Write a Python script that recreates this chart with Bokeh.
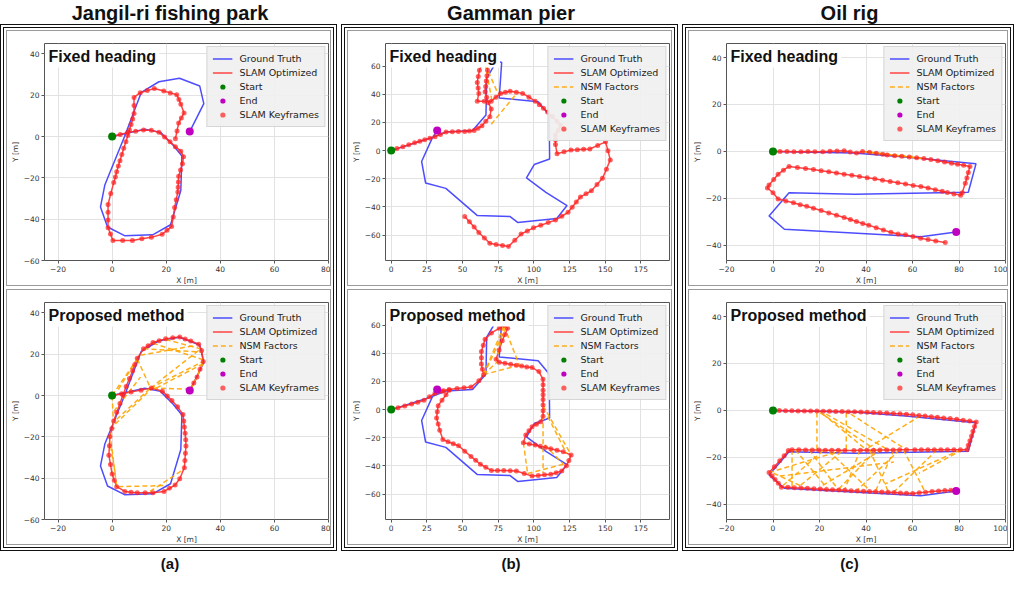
from bokeh.plotting import figure
from bokeh.models import Range1d, FixedTicker, Legend, LegendItem, Label
from bokeh.layouts import row, column
from bokeh.embed import file_html
from bokeh.resources import INLINE
from bokeh.core.properties import value

# ---------------- data ----------------
COLUMN_TITLES = ["Jangil-ri fishing park", "Gamman pier", "Oil rig"]
COLUMN_TAGS = ["(a)", "(b)", "(c)"]
ROW_TITLES = ["Fixed heading", "Proposed method"]
START = (0.0, 0.0)

# Jangil-ri fishing park
A_XTICKS = [-20, 0, 20, 40, 60, 80]
A_YTICKS = [-60, -40, -20, 0, 20, 40]
A_XRANGE = (-25, 80)
A_YRANGE = (-60, 45)
A_GT = [(0, 0), (12.1, 3.5), (17.9, 2.0), (22.5, -4.1), (25.8, -9.4), (25.4, -26.1), (21.6, -42.7),
        (15.0, -47.6), (4.6, -48.0), (-1.7, -43.8), (-4.3, -34.1), (-2.7, -23.5), (4.6, 0.0),
        (10.8, 21.4), (17.3, 26.5), (24.9, 28.2), (32.4, 24.4), (33.9, 15.9), (28.7, 2.4)]
A_FIXED_KF = [(0, 0), (3, 1.0), (5.8, 2.0), (8.7, 2.6), (11.6, 3.2), (14.5, 3.0), (17.3, 2.0), (19.4, -0.3),
              (21.4, -2.6), (23.4, -4.9), (25.4, -7.1), (26.4, -9.8), (26.0, -13.2), (25.3, -16.2),
              (24.6, -19.2), (24.5, -22.0), (24.4, -24.5), (24.3, -26.8), (23.7, -30.6), (23.1, -34.4),
              (22.6, -39), (22.0, -43.5), (20.3, -45.4), (18.5, -47.3), (14.5, -48.8), (11, -49.5),
              (7.5, -50.3), (3.9, -50.3), (0.3, -50.3), (-0.6, -47.2), (-1.5, -44.2), (-1.5, -40.4),
              (-1.5, -36.6), (-1.5, -32.9), (-0.5, -27.6), (0.6, -22.3), (1.2, -19.6), (1.7, -17),
              (2.3, -14.3), (2.9, -11.7), (3.6, -8.7), (4.3, -5.7), (5.1, -2.6), (5.8, 0.5), (6.4, 3.2),
              (7.0, 5.8), (7.6, 8.5), (8.1, 11.1), (8.1, 15), (8.1, 18.9), (10.4, 21.2), (13, 22.2),
              (15.6, 23.2), (19.1, 22.0), (21.5, 21.1), (23.9, 20.2), (24.7, 17.9), (25.4, 15.6),
              (26.6, 11.4), (25.6, 9), (24.6, 6.5), (24, 2.7), (23.4, -1.1)]
A_FIXED_NSM = []
A_PROP_KF = [(0, 0), (3.5, 0.9), (7.0, 1.7), (10.7, 2.6), (14.5, 3.6), (18.6, 2.1), (20.4, -0.2), (22.1, -2.4),
             (24.2, -5.5), (26.2, -9.2), (26.5, -12.3), (26.7, -15.3), (27.0, -18.3), (27.2, -21.4),
             (27.3, -24.4), (27.1, -27.9), (26.9, -31.5), (26.7, -35), (25, -40.3), (23.3, -43.3),
             (21.2, -44.9), (19.2, -46.4), (15.1, -47.1), (12.2, -47.1), (9.3, -47.1), (7, -46.8),
             (4.7, -46.4), (1.7, -44.1), (0.8, -41), (0, -38), (-0.6, -33.4), (-1.2, -28.9), (-1.0, -24.3),
             (-0.8, -19.8), (-0.1, -16), (0.6, -12.3), (1.7, -8.1), (2.9, -3.9), (4, 0.2), (5.2, 4.4),
             (6.4, 8.2), (7.6, 12.0), (8.4, 15), (9.3, 18.0), (11.6, 22.6), (13.3, 24.1), (15.1, 25.6),
             (17.4, 26.5), (19.8, 27.4), (22.4, 27.9), (25.0, 28.3), (27, 27.3), (29.1, 26.4), (32.0, 24.8),
             (33.1, 21.8), (33.7, 16.5), (32.5, 12.7), (31.4, 8.9), (30.2, 6), (29.1, 3.0)]
A_PROP_NSM = [(0, 0, 0.6, -16), (0, 0, 9.3, 17.7), (9.3, 17.7, 14.2, 3.6), (14.2, 3.6, 33.7, 16.5),
              (14.2, 3.6, 32, 21.8), (16.3, 3.6, 33.1, 15), (29.1, 3, 33.7, 15.8), (15.1, 3.6, 29.1, 3),
              (11.6, 22.6, 33.1, 21), (15.1, 25.3, 33.7, 17.3), (19.8, 27.1, 32.6, 22.6),
              (10.5, 19.5, 30.2, 24.1), (1.7, -11.5, 14.2, 3.6), (0.6, -7.7, 10.5, 8.9),
              (1.2, -13.8, 14.2, 2.9), (2.3, -44.1, 19.2, -43.6), (14, -46.4, 25.6, -36.5),
              (-0.8, -18.3, 1.7, -44.1), (-0.6, -24.4, 1.2, -38), (2.3, 2.9, 9.3, 17.7)]

# Gamman pier
B_XTICKS = [0, 25, 50, 75, 100, 125, 150, 175]
B_YTICKS = [-60, -40, -20, 0, 20, 40, 60]
B_XRANGE = (-4, 195)
B_YRANGE = (-78, 76)
B_GT = [(0, 0), (28, 9), (38.4, 13.2), (57, 14.3), (66.4, 25.2), (66.9, 51.5), (74.1, 63.6), (77.4, 62.5),
        (75.7, 37.3), (103, 34.7), (110.7, 25.2), (111.0, -6), (100.2, -9.9), (94.8, -19.3),
        (108.4, -29.6), (123.2, -39), (116.0, -48.2), (88.6, -51), (83.1, -46.7), (60.2, -46),
        (38.3, -26.8), (24.1, -23), (21.3, -7.7), (28.5, 8.3), (32.2, 14.3)]
B_FIXED_KF = [(0, 0), (4, 1.4), (8.2, 2.8), (12.3, 4.1), (16.4, 5.5), (20, 6.6), (23.5, 7.7), (27.1, 8.8),
              (30.7, 9.9), (34.5, 11.5), (38.4, 13.2), (42.8, 13.3), (47.1, 13.5), (51.5, 13.6), (54.8, 13.9),
              (58.1, 14.3), (60.8, 15.9), (63.6, 17.6), (66.3, 20.8), (69.1, 24.1), (70.1, 29.6), (68, 34),
              (66.9, 37.9), (65.8, 41.7), (66.2, 45.5), (66.6, 49.3), (67.1, 53.2), (67.5, 57), (67.5, 61.8),
              (64, 62.5), (61.8, 57), (61, 52.6), (60.3, 48.3), (60.9, 44.5), (61.4, 40.6), (60.3, 35.1),
              (65.2, 35.1), (70.1, 35.1), (73.4, 37.9), (76.7, 40.6), (80, 41.4), (83.3, 42.1), (87.7, 41.4),
              (92.1, 40.6), (96.5, 37.9), (100.9, 35.1), (103.8, 32.5), (106.7, 30), (109.6, 27.4),
              (112.9, 24.2), (116.2, 20.9), (118.8, 18), (117, 14.5), (115.1, 11), (115.1, 7.7),
              (115.1, 4.4), (116.2, -2.2), (121.1, -0.9), (126, 0.4), (130.4, 0.6), (134.8, 0.9),
              (139.2, 1.1), (144.7, 3.7), (150.2, 6.2), (151.9, -0.2), (153.5, -6.6), (150.8, -13.2),
              (148, -19.7), (144.2, -24.1), (140.3, -28.5), (136.5, -30.7), (132.6, -32.9), (129.7, -36.5),
              (126.8, -40.2), (123.9, -43.8), (119.5, -46.6), (115.1, -49.3), (110, -51.1), (104.8, -53),
              (99.7, -54.8), (95.4, -57), (91, -59.2), (86.6, -63.6), (82.2, -68), (78, -67.3),
              (73.5, -66.6), (69.1, -65.8), (65.3, -62), (61.4, -58.1), (58.1, -54.3), (54.8, -50.5),
              (51.5, -46.7)]
B_FIXED_NSM = [(65.8, 61.4, 70.5, 36), (65.8, 61.4, 75, 40), (70.1, 18.7, 88.8, 41.7)]
B_PROP_KF = [(0, 0), (4.8, 1.3), (9.5, 2.6), (14.3, 3.9), (18.6, 5.2), (23, 6.6), (26.8, 9.1), (30.7, 11.6),
             (35.6, 13), (40.6, 14.3), (46.1, 14.9), (51, 15.5), (55.9, 16), (61.4, 20.4), (64.7, 24.8),
             (63.9, 28.6), (63.2, 32.4), (63.2, 36.8), (63.2, 41.2), (64.5, 45.6), (65.8, 50), (70.2, 54.4),
             (75.7, 57.7), (78.9, 59.9), (81.6, 57.7), (79.7, 53.3), (77.8, 48.9), (75.6, 42.3),
             (73.5, 35.7), (75.7, 33.6), (79.7, 32.9), (83.7, 32.1), (87.7, 31.4), (91.4, 30.9), (95, 30.3),
             (98.7, 29.8), (103.5, 27), (106.4, 21.5), (106.4, 17.6), (106.4, 13.8), (106.4, 10.5),
             (106.4, 7.2), (106.4, 3.2), (106.4, -0.8), (106.4, -4.8), (104.8, -8.6), (101.8, -10.4),
             (98.7, -12.1), (96.5, -15), (94.3, -18), (92.6, -23.5), (96.8, -24.4), (100.9, -25.2),
             (104.5, -26.1), (108.1, -26.9), (111.8, -27.8), (116.2, -28.9), (120.6, -30), (126.1, -32.2),
             (124.5, -36.2), (122.8, -39.9), (119.5, -43.6), (115.6, -44.8), (111.8, -45.9),
             (107.4, -46.3), (103, -46.8), (98.7, -47.2), (93.2, -45.4), (87.7, -43.6), (83.3, -43.4),
             (78.9, -43.2), (74.5, -43.2), (70.2, -43.2), (66.3, -41), (62.5, -38.8), (59.2, -36),
             (55.9, -33.3), (51.5, -29.5), (47.2, -25.7), (43.5, -24.2), (39.8, -22.8), (36.2, -21.3),
             (34, -14.7), (32.9, -10.3), (31.8, -5.9), (32.3, -1.5), (32.9, 2.8), (35.6, 6.6),
             (38.4, 10.5), (40.6, 13.8), (36.8, 13.4), (33, 13)]
B_PROP_NSM = [(79, 59.5, 64.7, 24.8), (80.5, 58.5, 65.5, 26), (79, 59.5, 90, 31), (64.7, 24.8, 90, 31.5),
              (79, 59.5, 74, 35.7), (64.7, 24.8, 74.5, 34), (109.7, -4.8, 122.8, -31.1),
              (106.4, -4, 106.4, -45), (92.6, -23.5, 95.6, -45.4), (95.6, -45.4, 120.7, -38.8),
              (107.5, -25, 120.7, -38.8), (106.4, 2.9, 126.1, -32.2)]

# Oil rig
C_XTICKS = [-20, 0, 20, 40, 60, 80, 100]
C_YTICKS = [-40, -20, 0, 20, 40]
C_XRANGE = (-20, 100)
C_YRANGE = (-46.5, 46)
C_GT = [(0, 0), (34.6, -0.7), (57, -2.4), (87.3, -5.3), (84, -17.4), (35.2, -18.3), (6.9, -17.6),
        (-1.7, -27.5), (4.9, -33.2), (63.6, -36.4), (78.8, -34.4)]
C_FIXED_KF = [(0, 0), (3, 0), (6, 0), (9, -0.1), (12, -0.1), (15, 0), (18, -0.1), (21.4, -0.1), (24.5, 0.1),
              (27.5, 0.2), (30.6, 0.3), (33.2, -0.2), (35.9, -0.7), (38.5, 0), (41.5, -0.4), (44.4, -0.8),
              (47.2, -1.2), (49.1, -1.5), (52.3, -1.8), (55.4, -2.1), (58.6, -2.4), (61.8, -2.7),
              (64.9, -3), (67.9, -3.5), (70.9, -4), (73.8, -4.5), (76.8, -5), (79.4, -5.5), (82, -5.9),
              (84.7, -6.4), (84, -9), (83.4, -11.3), (82.7, -13.6), (81.4, -17.6), (80.7, -18.7),
              (77.8, -18.1), (75, -17.5), (72.8, -17), (69.8, -16.3), (66.7, -15.6), (63.6, -15),
              (60.3, -14.5), (57, -13.9), (53.7, -13.4), (50.4, -12.8), (47.1, -12.3), (43.8, -11.7),
              (40.5, -11.2), (37.2, -10.7), (33.9, -10.2), (30.6, -9.7), (27.3, -9.2), (24, -8.7),
              (20.7, -8.2), (17.4, -7.7), (14, -7.3), (10.5, -6.9), (6.9, -6.4), (4.5, -8), (2.2, -9.7),
              (0.3, -12), (-1.7, -14.3), (-2.4, -15.6), (0, -17.6), (2.2, -20.3), (5.5, -21.1),
              (8.8, -21.9), (11.7, -22.7), (14.5, -23.4), (17.4, -24.2), (20.7, -25.2), (24, -26.2),
              (27.3, -27.2), (30.6, -28.2), (33.3, -29), (35.9, -29.9), (38.6, -30.7), (41.2, -31.5),
              (44.4, -32.5), (47.5, -33.5), (50.7, -34.5), (53.8, -35.2), (57, -35.5), (60.2, -36.3),
              (63.5, -37), (66.7, -37.6), (70, -38.2), (74.1, -38.8)]
C_FIXED_NSM = [(38.5, 0, 64, -3), (41, -0.4, 60, -2.2)]
C_PROP_KF = [(0, 0), (2.7, 0), (5.4, -0.1), (8.1, -0.1), (10.8, -0.2), (13.5, -0.2), (16.2, -0.3),
             (18.9, -0.3), (21.6, -0.4), (24.3, -0.4), (27, -0.5), (29.7, -0.5), (32.4, -0.6), (35.1, -0.6),
             (37.8, -0.7), (40.5, -0.8), (43.2, -0.9), (46, -1), (48.9, -1.1), (51.8, -1.3), (54.6, -1.4),
             (57.4, -1.6), (60.1, -1.9), (62.8, -2.2), (65.4, -2.4), (68.1, -2.7), (70.7, -2.9),
             (73.4, -3.2), (76.2, -3.5), (79, -3.8), (81.8, -4.2), (84.6, -4.5), (87.4, -4.9),
             (86.7, -6.9), (86, -8.9), (85.4, -10.9), (84.7, -12.9), (84, -14.8), (83.4, -16.8),
             (80.6, -16.8), (77.8, -16.8), (75, -16.8), (72.2, -16.8), (69.4, -16.8), (66.6, -16.8),
             (63.8, -16.8), (61, -16.8), (57.4, -16.8), (54.5, -16.8), (51.7, -16.9), (48.9, -16.9),
             (46, -16.9), (43.2, -17), (40.4, -17), (37.6, -17), (34.8, -17.1), (30.9, -17.1), (28.1, -17),
             (25.3, -17), (22.5, -17), (19.7, -16.9), (16.9, -16.9), (14, -16.9), (11.1, -16.8),
             (8.2, -16.8), (6.6, -17.1), (4.8, -19.3), (2.9, -21.5), (0.6, -24), (-1.7, -26.5),
             (-0.4, -28), (0.9, -29.4), (2.3, -31.1), (3.6, -32.7), (6.4, -32.8), (9.2, -33), (12, -33.1),
             (14.8, -33.2), (17.6, -33.4), (20.3, -33.5), (23, -33.7), (25.6, -33.8), (28.3, -33.9),
             (30.9, -34), (33.6, -34.2), (36.2, -34.4), (38.9, -34.5), (41.5, -34.6), (44.1, -34.7),
             (46.8, -34.8), (49.5, -34.9), (52.1, -35), (54.8, -35.2), (57.4, -35.3), (60.1, -35.4),
             (62.9, -35.1), (65.6, -34.9), (68.4, -34.6), (71.2, -34.4), (73.9, -34.1), (76.5, -34),
             (78.7, -33.8)]
C_PROP_NSM = [(18.9, -0.9, 18.9, -16.8), (31.5, -0.9, 31.5, -16.8), (20.2, -0.9, 44.1, -16.8),
              (22.9, -1.6, 49.5, -16.8), (33.5, -1.6, 57.4, -16.8), (63.4, -2.3, 39.5, -16.8),
              (21.5, -1.6, 40.2, -16.8), (81.4, -16.8, 62.8, -26.8), (80.7, -16.8, 48.1, -31.4),
              (8.2, -16.8, 8.2, -32.7), (15.6, -16.8, 28.2, -34), (21.5, -17.2, 4.3, -32),
              (-1.7, -26.5, 28.2, -17.5), (0.3, -26.8, 11.6, -32), (44.1, -17.2, 28.2, -33.6),
              (46.8, -16.8, 20.2, -32.7), (56.1, -16.8, 65.4, -34.7), (52.1, -16.8, 44.1, -34.4),
              (41.5, -16.8, 49.5, -34.4), (24.2, -17.5, 41.5, -34), (29.5, -17.5, 10.9, -32.7),
              (9.6, -16.8, 22.9, -32.7), (37.5, -16.8, 30.9, -33.6), (54.5, -16.8, 36.2, -34),
              (70.5, -16.8, 52.1, -34.7), (2.9, -28, 52, -22)]

# ---------------- styling ----------------
GT_COLOR = "#3a3aff"
SLAM_COLOR = "#ff3030"
NSM_COLOR = "#ffa500"
START_COLOR = "#008000"
END_COLOR = "#c000c0"


def minus(t):
    return ("\u2212" + str(abs(t))) if t < 0 else str(t)


def panel(w, h, xr, yr, xt, yt, gt, kf, nsm, title, with_nsm_legend):
    p = figure(width=w, height=h, x_range=Range1d(*xr), y_range=Range1d(*yr),
               output_backend="svg", toolbar_location=None,
               min_border_left=30, min_border_right=4, min_border_top=12, min_border_bottom=22,
               styles={"border": "1px solid #9a9a9a"})
    p.xaxis.ticker = FixedTicker(ticks=xt)
    p.yaxis.ticker = FixedTicker(ticks=yt)
    p.xaxis.major_label_overrides = {t: minus(t) for t in xt}
    p.yaxis.major_label_overrides = {t: minus(t) for t in yt}
    p.xaxis.axis_label = "X [m]"
    p.yaxis.axis_label = "Y [m]"
    p.axis.major_label_text_font_size = "7.5px"
    p.axis.major_label_text_font = "DejaVu Sans"
    p.axis.major_label_text_color = "#333333"
    p.axis.axis_label_text_font_size = "7.5px"
    p.axis.axis_label_text_font = "DejaVu Sans"
    p.axis.axis_label_text_font_style = "normal"
    p.axis.axis_label_text_color = "#333333"
    p.axis.axis_label_standoff = 1
    p.axis.major_label_standoff = 2
    p.axis.minor_tick_line_color = None
    p.axis.major_tick_in = 0
    p.axis.major_tick_out = 3
    p.axis.major_tick_line_color = "#555555"
    p.axis.axis_line_color = None
    p.grid.grid_line_color = "#e2e2e2"
    p.outline_line_color = "#555555"
    p.background_fill_color = "white"

    gx = [a for a, b in gt]
    gy = [b for a, b in gt]
    kx = [a for a, b in kf]
    ky = [b for a, b in kf]
    r_gt = p.line(gx, gy, line_color=GT_COLOR, line_width=1.5, line_alpha=0.9)
    r_slam = p.line(kx, ky, line_color=SLAM_COLOR, line_width=1.5, line_alpha=0.9)
    r_nsm = None
    if with_nsm_legend:
        r_nsm = p.segment(x0=[s[0] for s in nsm], y0=[s[1] for s in nsm],
                          x1=[s[2] for s in nsm], y1=[s[3] for s in nsm],
                          line_color=NSM_COLOR, line_width=1.5, line_dash="5 3", line_alpha=0.9)
    r_kf = p.scatter(kx, ky, size=5, marker="circle", fill_color="#ff2020", fill_alpha=0.7,
                     line_color=None)
    r_start = p.scatter([START[0]], [START[1]], size=8, marker="circle", fill_color=START_COLOR,
                        line_color=None)
    r_end = p.scatter([gx[-1]], [gy[-1]], size=8, marker="circle", fill_color=END_COLOR,
                      line_color=None)

    items = [LegendItem(label="Ground Truth", renderers=[r_gt]),
             LegendItem(label="SLAM Optimized", renderers=[r_slam])]
    if r_nsm is not None:
        items.append(LegendItem(label="NSM Factors", renderers=[r_nsm]))
    items += [LegendItem(label="Start", renderers=[r_start]),
              LegendItem(label="End", renderers=[r_end]),
              LegendItem(label="SLAM Keyframes", renderers=[r_kf])]
    leg = Legend(items=items, location="top_right", label_text_font_size="9.5px",
                 label_text_font="DejaVu Sans", label_text_color="#222222",
                 label_height=13, glyph_height=13, glyph_width=20, label_standoff=7,
                 spacing=1, padding=5, margin=3,
                 background_fill_color="#f0f0f0", background_fill_alpha=0.92,
                 border_line_color="#bbbbbb")
    p.add_layout(leg)

    lab = Label(x=xr[0], y=yr[1], text=title, text_font="Liberation Sans", text_font_size="16px",
                text_font_style="bold", text_color="#111111", text_align="left", text_baseline="top",
                x_offset=1, y_offset=-1, padding=3, background_fill_color="white")
    p.add_layout(lab)
    return p


def text_fig(w, h, txt, size):
    p = figure(width=w, height=h, x_range=Range1d(0, 1), y_range=Range1d(0, 1),
               x_axis_type=None, y_axis_type=None, output_backend="svg",
               toolbar_location=None, min_border=0)
    p.grid.visible = False
    p.outline_line_color = None
    p.text(x=[0.5], y=[0.5], text=[txt], text_align="center", text_baseline="middle",
           text_font=value("Liberation Sans"), text_font_style="bold", text_font_size=size,
           text_color="#111111")
    return p


SPECS = [
    (325, A_XRANGE, A_YRANGE, A_XTICKS, A_YTICKS, A_GT,
     [(A_FIXED_KF, A_FIXED_NSM, False), (A_PROP_KF, A_PROP_NSM, True)]),
    (325, B_XRANGE, B_YRANGE, B_XTICKS, B_YTICKS, B_GT,
     [(B_FIXED_KF, B_FIXED_NSM, True), (B_PROP_KF, B_PROP_NSM, True)]),
    (320, C_XRANGE, C_YRANGE, C_XTICKS, C_YTICKS, C_GT,
     [(C_FIXED_KF, C_FIXED_NSM, True), (C_PROP_KF, C_PROP_NSM, True)]),
]

PH = 256
cols = []
for i, (w, xr, yr, xt, yt, gt, rows_) in enumerate(SPECS):
    plots = []
    for j, (kf, nsm, show_nsm) in enumerate(rows_):
        plots.append(panel(w, PH, xr, yr, xt, yt, gt, kf, nsm, ROW_TITLES[j], show_nsm))
    framed = column(*plots, spacing=3,
                    styles={"border": "4px double #111111", "padding": "2px"})
    cols.append(column(text_fig(w + 14, 24, COLUMN_TITLES[i], "20px"), framed,
                       text_fig(w + 14, 24, COLUMN_TAGS[i], "15px"), spacing=0))

layout = row(*cols, spacing=2)
open("out.html", "w").write(file_html(layout, INLINE))
